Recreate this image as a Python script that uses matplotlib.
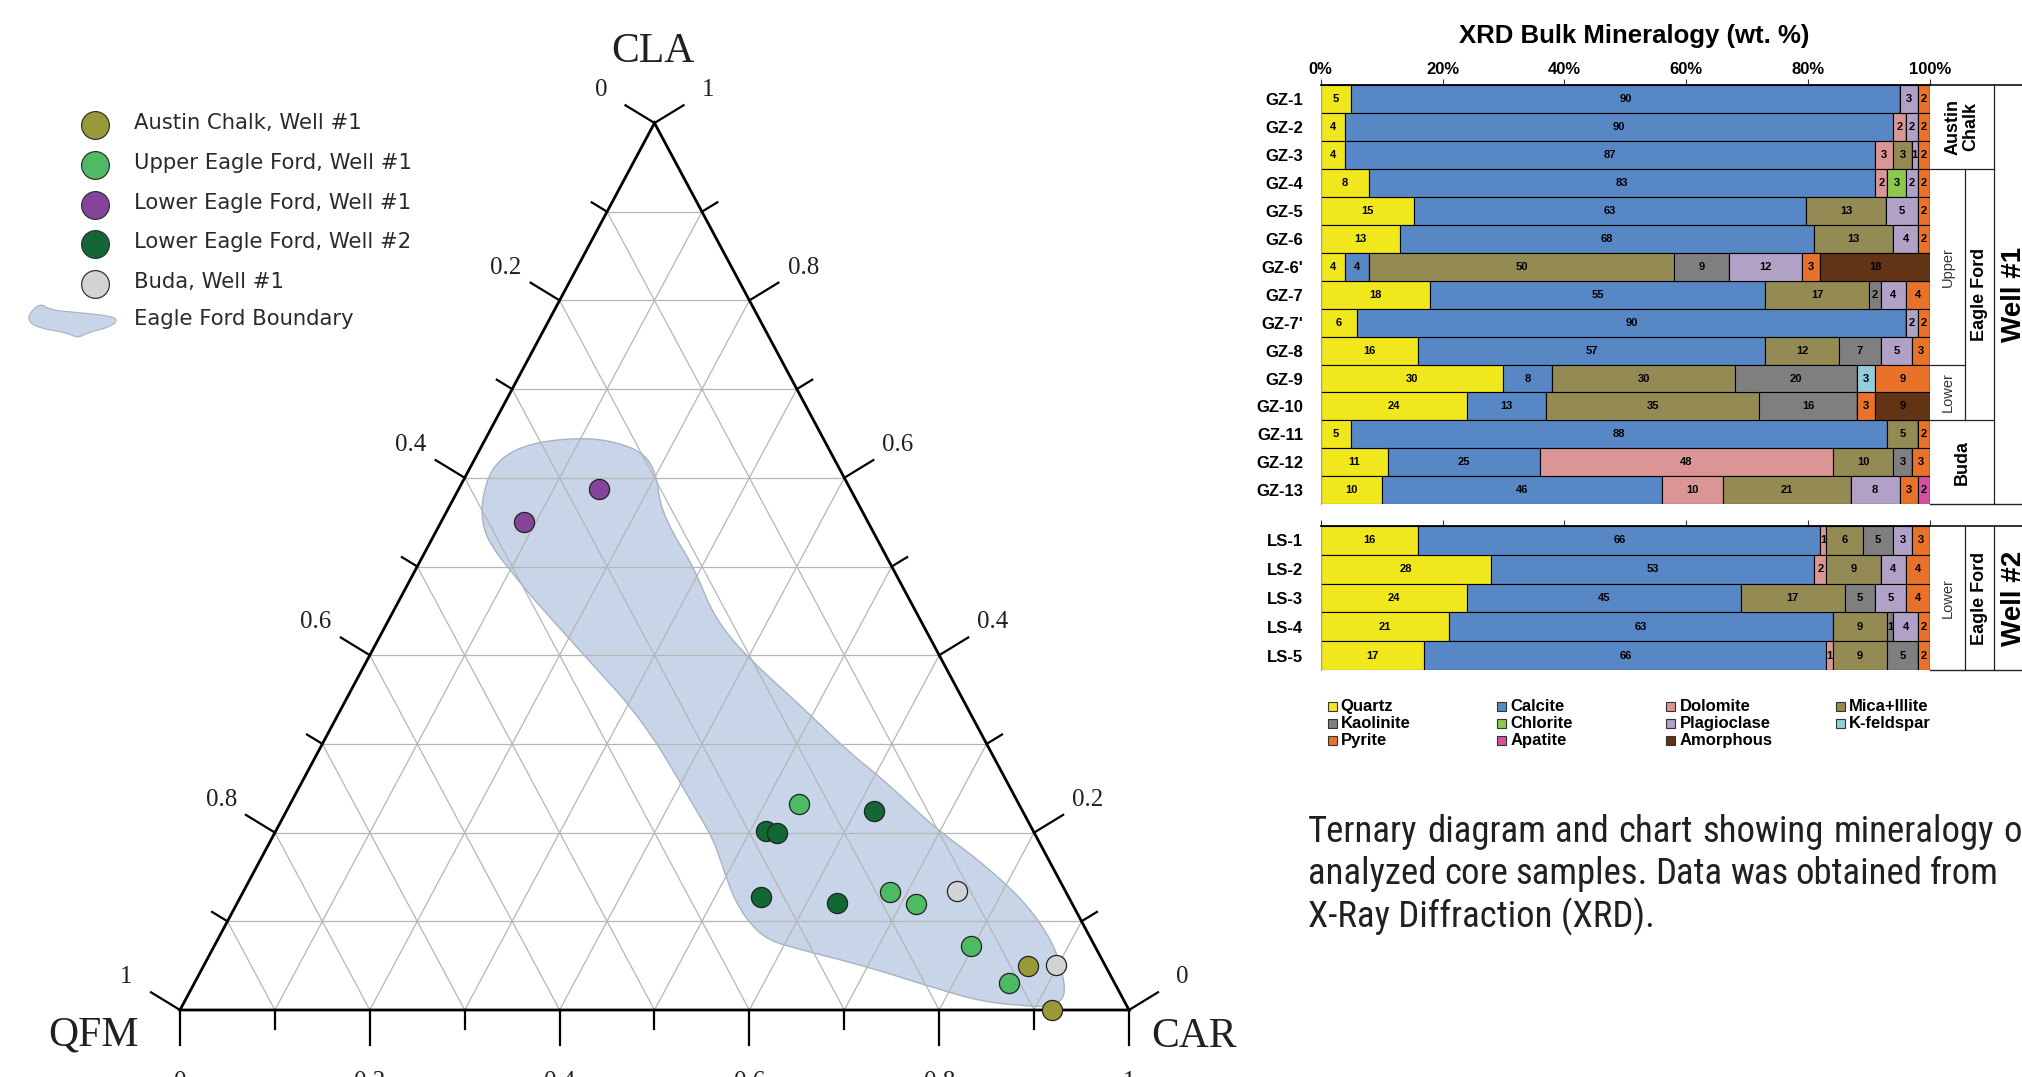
import numpy as np
import matplotlib
matplotlib.use('Agg')
import matplotlib.pyplot as plt
from matplotlib.patches import Rectangle, Polygon
from matplotlib import font_manager

W, H = 2022, 1077
plt.rcParams['font.family'] = 'Liberation Sans'

# ---------------- ternary data (fractions) ----------------
# x axis = CAR, right-side axis = CLA, QFM = 1 - CAR - CLA
austin_car = [0.869, 0.919]
austin_cla = [0.050, 0.000]
upper_car = [0.536, 0.682, 0.716, 0.797, 0.859]
upper_cla = [0.232, 0.133, 0.119, 0.072, 0.030]
lower1_car = [0.148, 0.087]
lower1_cla = [0.587, 0.550]
lower2_car = [0.517, 0.530, 0.619, 0.549, 0.632]
lower2_cla = [0.202, 0.199, 0.224, 0.127, 0.121]
buda_car = [0.752, 0.898]
buda_cla = [0.134, 0.051]

# Eagle Ford boundary outline (CAR, CLA)
boundary_car = [0.030, 0.022, 0.046, 0.106, 0.152, 0.180, 0.202, 0.220, 0.251, 0.291,
                0.344, 0.403, 0.481, 0.556, 0.617, 0.690, 0.764, 0.832, 0.883, 0.912,
                0.925, 0.918, 0.897, 0.842, 0.782, 0.699, 0.620, 0.579, 0.546, 0.519,
                0.494, 0.466, 0.439, 0.327, 0.219, 0.132, 0.100, 0.076, 0.049]
boundary_cla = [0.575, 0.616, 0.639, 0.646, 0.637, 0.624, 0.601, 0.571, 0.537, 0.500,
                0.440, 0.395, 0.344, 0.293, 0.256, 0.207, 0.165, 0.120, 0.075, 0.038,
                0.015, 0.004, 0.004, 0.009, 0.025, 0.049, 0.068, 0.079, 0.102, 0.128,
                0.158, 0.192, 0.218, 0.325, 0.405, 0.470, 0.496, 0.515, 0.541]

# ---------------- XRD bulk mineralogy ----------------
minerals = ['Quartz', 'Calcite', 'Dolomite', 'Mica+Illite', 'Kaolinite', 'Chlorite',
            'Plagioclase', 'K-feldspar', 'Pyrite', 'Apatite', 'Amorphous']
mineral_colors = ['#f1e71d', '#5788c5', '#da9594', '#938a54', '#7f7f7f', '#8cc84f',
                  '#b2a1c7', '#92cddc', '#e8722a', '#d4509e', '#623314']

gz_samples = ['GZ-1', 'GZ-2', 'GZ-3', 'GZ-4', 'GZ-5', 'GZ-6', "GZ-6'", 'GZ-7', "GZ-7'",
              'GZ-8', 'GZ-9', 'GZ-10', 'GZ-11', 'GZ-12', 'GZ-13']
gz_values = [
    [5, 90, 0, 0, 0, 0, 3, 0, 2, 0, 0],
    [4, 90, 2, 0, 0, 0, 2, 0, 2, 0, 0],
    [4, 87, 3, 3, 0, 0, 1, 0, 2, 0, 0],
    [8, 83, 2, 0, 0, 3, 2, 0, 2, 0, 0],
    [15, 63, 0, 13, 0, 0, 5, 0, 2, 0, 0],
    [13, 68, 0, 13, 0, 0, 4, 0, 2, 0, 0],
    [4, 4, 0, 50, 9, 0, 12, 0, 3, 0, 18],
    [18, 55, 0, 17, 2, 0, 4, 0, 4, 0, 0],
    [6, 90, 0, 0, 0, 0, 2, 0, 2, 0, 0],
    [16, 57, 0, 12, 7, 0, 5, 0, 3, 0, 0],
    [30, 8, 0, 30, 20, 0, 0, 3, 9, 0, 0],
    [24, 13, 0, 35, 16, 0, 0, 0, 3, 0, 9],
    [5, 88, 0, 5, 0, 0, 0, 0, 2, 0, 0],
    [11, 25, 48, 10, 3, 0, 0, 0, 3, 0, 0],
    [10, 46, 10, 21, 0, 0, 8, 0, 3, 2, 0],
]
ls_samples = ['LS-1', 'LS-2', 'LS-3', 'LS-4', 'LS-5']
ls_values = [
    [16, 66, 1, 6, 5, 0, 3, 0, 3, 0, 0],
    [28, 53, 2, 9, 0, 0, 4, 0, 4, 0, 0],
    [24, 45, 0, 17, 5, 0, 5, 0, 4, 0, 0],
    [21, 63, 0, 9, 1, 0, 4, 0, 2, 0, 0],
    [17, 66, 1, 9, 5, 0, 0, 0, 2, 0, 0],
]
pct_ticks = [0, 20, 40, 60, 80, 100]

caption_lines = [('Ternary diagram and chart showing mineralogy of', 2003),
                 ('analyzed core samples. Data was obtained from', 1930),
                 ('X-Ray Diffraction (XRD).', None)]

fig = plt.figure(figsize=(W / 100, H / 100), dpi=100)

# overlay in pixel coordinates for free text / legends
ov = fig.add_axes([0, 0, 1, 1])
ov.set_xlim(0, W)
ov.set_ylim(H, 0)
ov.axis('off')


def chaikin(xs, ys, n=3):
    pts = np.column_stack([xs, ys]).astype(float)
    for _ in range(n):
        nxt = np.roll(pts, -1, axis=0)
        new = np.empty((2 * len(pts), 2))
        new[0::2] = 0.75 * pts + 0.25 * nxt
        new[1::2] = 0.25 * pts + 0.75 * nxt
        pts = new
    return pts


# ---------------- ternary diagram ----------------
tx0, ty0, tw, th = 180, 1010, 949, 887   # pixel placement of the triangle
tax = fig.add_axes([tx0 / W, 1 - ty0 / H, tw / W, th / H])
tax.set_xlim(0, 1)
tax.set_ylim(0, 1)
tax.axis('off')


def txy(car, cla):
    car = np.asarray(car, dtype=float)
    cla = np.asarray(cla, dtype=float)
    return car + cla / 2, cla


serif = 'Liberation Serif'
ink = '#231f20'

# boundary blob
bx, by = txy(boundary_car, boundary_cla)
tax.add_patch(Polygon(chaikin(bx, by), closed=True, fc='#c8d5e8', ec='#a7b3c4',
                      lw=1.0, zorder=1, clip_on=False))

# grid
for k in range(1, 10):
    v = k / 10
    gx, gy = txy([0, 1 - v], [v, v])          # CLA = v
    tax.plot(gx, gy, color='#b5b5b5', lw=0.9, zorder=2)
    gx, gy = txy([v, v], [0, 1 - v])          # CAR = v
    tax.plot(gx, gy, color='#b5b5b5', lw=0.9, zorder=2)
    gx, gy = txy([1 - v, 0], [0, 1 - v])      # QFM = v
    tax.plot(gx, gy, color='#b5b5b5', lw=0.9, zorder=2)

# outline
ox, oy = txy([0, 1, 0, 0], [0, 0, 1, 0])
tax.plot(ox, oy, color='black', lw=2.0, zorder=3, solid_joinstyle='miter', clip_on=False)

# ticks and labels
d_left = np.array([-0.853, 0.521])
d_right = np.array([0.853, 0.521])
d_bot = np.array([0.0, -1.0])


def tick(p, d, length, label=None, dist=63):
    x, y = p
    tax.plot([x, x + d[0] * length / tw], [y, y + d[1] * length / th],
             color='black', lw=1.6, zorder=3, clip_on=False)
    if label is not None:
        tax.text(x + d[0] * dist / tw, y + d[1] * dist / th, label, ha='center',
                 va='center', fontsize=18, family=serif, color=ink, clip_on=False)


def fmt(v):
    return '0' if v == 0 else ('1' if v == 1 else f'{v:.1f}')


for k in range(11):
    v = k / 10
    major = k % 2 == 0
    ln = 34 if major else 18
    lab = fmt(v) if major else None
    tick(txy(v, 0), d_bot, ln + 1, lab, dist=72)       # CAR along bottom
    tick(txy(0, 1 - v), d_left, ln, lab)               # QFM along left side
    tick(txy(1 - v, v), d_right, ln, lab)              # CLA along right side

ov.text(653, 52, 'CLA', ha='center', va='center', fontsize=30, family=serif, color=ink)
ov.text(94, 1035, 'QFM', ha='center', va='center', fontsize=30, family=serif, color=ink)
ov.text(1194, 1037, 'CAR', ha='center', va='center', fontsize=30, family=serif, color=ink)

tern_groups = [
    ('Austin Chalk, Well #1', '#99993a', austin_car, austin_cla),
    ('Upper Eagle Ford, Well #1', '#4dba64', upper_car, upper_cla),
    ('Lower Eagle Ford, Well #1', '#83449a', lower1_car, lower1_cla),
    ('Lower Eagle Ford, Well #2', '#116834', lower2_car, lower2_cla),
    ('Buda, Well #1', '#d2d3d5', buda_car, buda_cla),
]
for i, (name, col, car, cla) in enumerate(tern_groups):
    px, py = txy(car, cla)
    tax.plot(px, py, 'o', ms=14.5, mfc=col, mec='#222222', mew=0.9, zorder=5, clip_on=False)
    ly = 125 + i * 39.8
    ov.plot([95], [ly], 'o', ms=20, mfc=col, mec='#333333', mew=0.9)
    ov.text(134, ly - 2, name, ha='left', va='center', fontsize=15.2,
            family='DejaVu Sans', color='#2a2a2a')

# legend glyph for boundary
glyph_x = [28, 40, 50, 83, 110, 118, 110, 87, 78, 67, 40, 30]
glyph_y = [315, 303, 310, 313, 316, 320, 327, 333, 338, 333, 328, 323]
ov.add_patch(Polygon(chaikin(glyph_x, glyph_y, 2), closed=True, fc='#c8d5e8', ec='#a7b3c4', lw=0.8))
ov.text(134, 319, 'Eagle Ford Boundary', ha='left', va='center', fontsize=15.2,
        family='DejaVu Sans', color='#2a2a2a')

# ---------------- stacked bar chart ----------------
bl, br = 1320.7, 1930.0
bw = br - bl


def bar_block(top, bottom, samples, values, labels_on):
    ax = fig.add_axes([bl / W, 1 - bottom / H, bw / W, (bottom - top) / H])
    vals = np.array(values, dtype=float)
    pct = vals / vals.sum(axis=1, keepdims=True) * 100
    y = np.arange(len(samples))
    left = np.zeros(len(samples))
    for k, name in enumerate(minerals):
        bars = ax.barh(y, pct[:, k], left=left, height=1.0, color=mineral_colors[k],
                       edgecolor='black', linewidth=0.8)
        labs = [str(int(v)) if v > 0 else '' for v in vals[:, k]]
        ax.bar_label(bars, labels=labs, label_type='center', fontsize=8,
                     fontweight='bold', color='black')
        left += pct[:, k]
    ax.set_xlim(0, 100)
    ax.set_ylim(len(samples) - 0.5, -0.5)
    ax.set_yticks(y)
    ax.set_yticklabels(samples, fontsize=12, fontweight='bold')
    ax.tick_params(axis='y', length=0, pad=12.5)
    ax.xaxis.tick_top()
    ax.set_xticks(pct_ticks)
    if labels_on:
        ax.set_xticklabels([f'{t}%' for t in pct_ticks], fontsize=12, fontweight='bold')
    else:
        ax.set_xticklabels([])
    ax.tick_params(axis='x', length=4, width=0.8, pad=1.5, color='#333333')
    ax.spines['top'].set_linewidth(1.3)
    ax.spines['left'].set_color('#a0a0a0')
    ax.spines['left'].set_linewidth(0.8)
    ax.spines['right'].set_visible(False)
    ax.spines['bottom'].set_visible(False)
    return ax


ax_gz = bar_block(85, 504.3, gz_samples, gz_values, True)
ax_ls = bar_block(526, 670, ls_samples, ls_values, False)

ov.text(1634, 36, 'XRD Bulk Mineralogy (wt. %)', ha='center', va='center',
        fontsize=18.5, fontweight='bold')

# group annotation boxes to the right of the bars
c1 = (1965.3 - bl) / bw
c2 = (1994.3 - bl) / bw
c3 = 1.25
cw = (2014 - bl) / bw


def seg(ax, xs, ys, lw=0.9):
    ax.plot(xs, ys, color='#222222', lw=lw, transform=ax.get_yaxis_transform(), clip_on=False)


def lab(ax, x, y, s, size=13, weight='bold', color='black'):
    ax.text(x, y, s, rotation=90, ha='center', va='center', fontsize=size, fontweight=weight,
            color=color, transform=ax.get_yaxis_transform(), clip_on=False, linespacing=1.05)


for ax, n in [(ax_gz, len(gz_samples)), (ax_ls, len(ls_samples))]:
    seg(ax, [1, c3], [-0.5, -0.5], lw=1.3)
    seg(ax, [1, c3], [n - 0.5, n - 0.5], lw=1.0)
    seg(ax, [c2, c2], [-0.5, n - 0.5])

seg(ax_gz, [1, c2], [2.5, 2.5])
seg(ax_gz, [1, c2], [11.5, 11.5])
seg(ax_gz, [1, c1], [9.5, 9.5])
seg(ax_gz, [c1, c1], [2.5, 11.5])
lab(ax_gz, (1 + c2) / 2, 1.0, 'Austin\nChalk')
lab(ax_gz, (1 + c1) / 2, 6.0, 'Upper', size=10.5, weight='normal', color='#333333')
lab(ax_gz, (1 + c1) / 2, 10.5, 'Lower', size=10.5, weight='normal', color='#333333')
lab(ax_gz, (c1 + c2) / 2, 7.0, 'Eagle Ford')
lab(ax_gz, (1 + c2) / 2, 13.0, 'Buda')
lab(ax_gz, cw, 7.0, 'Well #1', size=20)

seg(ax_ls, [c1, c1], [-0.5, 4.5])
lab(ax_ls, (1 + c1) / 2, 2.0, 'Lower', size=10.5, weight='normal', color='#333333')
lab(ax_ls, (c1 + c2) / 2, 2.0, 'Eagle Ford')
lab(ax_ls, cw, 2.0, 'Well #2', size=20)

# mineral legend (4 columns, filled row-wise)
for i, (name, col) in enumerate(zip(minerals, mineral_colors)):
    cx = 1332.3 + (i % 4) * 169.3
    cy = 706.7 + (i // 4) * 16.7
    ov.add_patch(Rectangle((cx - 4.5, cy - 4.5), 9, 9, fc=col, ec='#333333', lw=0.8))
    ov.text(cx + 8.5, cy, name, ha='left', va='center', fontsize=12, fontweight='bold')

# ---------------- caption (justified, condensed face if one is installed) ----------------
cap_prop = None
for fam in ['Liberation Sans Narrow', 'Arial Narrow', 'Roboto Condensed', 'DejaVu Sans Condensed']:
    try:
        font_manager.findfont(fam, fallback_to_default=False)
        cap_prop = font_manager.FontProperties(family=fam)
        break
    except ValueError:
        pass
if cap_prop is None:
    cands = []
    for f in font_manager.fontManager.ttflist:
        fn = f.fname.lower()
        if ('condensed' in fn or 'narrow' in fn) and 'sans' in fn or 'robotocondensed' in fn:
            if not any(s in fn for s in ['bold', 'italic', 'oblique', 'light', 'thin', 'black', 'medium']):
                cands.append(f.fname)
    cands.sort(key=lambda p: (0 if 'liberation' in p.lower() else 1 if 'roboto' in p.lower() else 2, p))
    if cands:
        cap_prop = font_manager.FontProperties(fname=cands[0])
    else:
        cap_prop = font_manager.FontProperties(family='Liberation Sans')

fig.canvas.draw()
renderer = fig.canvas.get_renderer()


def text_w(s, prop):
    return renderer.get_text_width_height_descent(s, prop, ismath=False)[0]


# size the face so the last (unjustified) line spans the same width as the reference
cap_prop.set_size(20)
cap_size = min(28.0, 20 * 346 / text_w(caption_lines[2][0], cap_prop))
cap_prop.set_size(cap_size)

cap_x0 = 1308
for i, (line, x_last) in enumerate(caption_lines):
    yb = 842 + i * 42.5
    if x_last is None:
        ov.text(cap_x0, yb, line, ha='left', va='baseline', fontproperties=cap_prop, color=ink)
        continue
    words = line.split()
    widths = [text_w(w, cap_prop) for w in words]
    gap = (x_last - cap_x0 - sum(widths[:-1])) / (len(words) - 1)
    x = cap_x0
    for w, wd in zip(words, widths):
        ov.text(x, yb, w, ha='left', va='baseline', fontproperties=cap_prop, color=ink)
        x += wd + gap

fig.savefig('out.png', dpi=100)
